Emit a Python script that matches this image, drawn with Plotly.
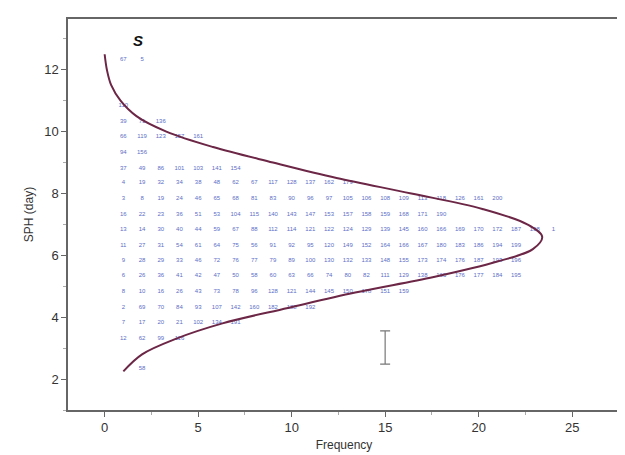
import plotly.graph_objects as go

# SPH row levels (y) and sample IDs listed along each row (x = 1..n)
row_sph = [12.33, 10.83, 10.33, 9.83, 9.33, 8.82, 8.34, 7.84, 7.33, 6.84,
           6.32, 5.83, 5.34, 4.82, 4.32, 3.82, 3.32, 2.33]
row_ids = [
    ["67", "5"],
    ["110"],
    ["39", "71", "136"],
    ["66", "119", "123", "157", "161"],
    ["94", "156"],
    ["37", "49", "86", "101", "103", "141", "154"],
    ["4", "19", "32", "34", "38", "48", "62", "67", "117", "128", "137", "162", "179"],
    ["3", "8", "19", "24", "46", "65", "68", "81", "83", "90", "96", "97", "105",
     "106", "108", "109", "113", "118", "126", "161", "200"],
    ["16", "22", "23", "36", "51", "53", "104", "115", "140", "143", "147", "153",
     "157", "158", "159", "168", "171", "190"],
    ["13", "14", "30", "40", "44", "59", "67", "88", "112", "114", "121", "122",
     "124", "129", "139", "145", "160", "166", "169", "170", "172", "187", "198", "1"],
    ["11", "27", "31", "54", "61", "64", "75", "56", "91", "92", "95", "120", "149",
     "152", "164", "166", "167", "180", "183", "186", "194", "199"],
    ["9", "28", "29", "33", "46", "72", "76", "77", "79", "89", "100", "130", "132",
     "133", "148", "155", "173", "174", "176", "187", "193", "196"],
    ["6", "26", "36", "41", "42", "47", "50", "58", "60", "63", "66", "74", "80",
     "82", "111", "129", "138", "165", "176", "177", "184", "195"],
    ["8", "10", "16", "26", "43", "73", "78", "96", "128", "121", "144", "145",
     "150", "178", "151", "159"],
    ["2", "69", "70", "84", "93", "107", "142", "160", "182", "188", "192"],
    ["7", "17", "20", "21", "102", "134", "191"],
    ["12", "62", "99", "116"],
    ["", "58"],
]

# fitted density curve (SPH, frequency)
curve_sph = [12.5, 12.0, 11.5, 11.0, 10.5, 10.0, 9.5, 9.0, 8.5, 8.0, 7.5, 7.0,
             6.6, 6.2, 5.8, 5.3, 4.8, 4.3, 3.8, 3.3, 2.8, 2.25]
curve_freq = [0.0, 0.12, 0.35, 0.85, 1.7, 3.3, 5.8, 9.0, 12.4, 16.4, 20.2, 22.6,
              23.4, 22.9, 21.0, 17.6, 13.4, 9.8, 6.3, 3.8, 2.0, 1.0]

# error bar
err_x = [15]
err_y = [3.02]
err_half = [0.54]

x_tickvals = [0, 5, 10, 15, 20, 25]
y_tickvals = [2, 4, 6, 8, 10, 12]

tx, ty, tt = [], [], []
for s, ids in zip(row_sph, row_ids):
    for i, lab in enumerate(ids):
        if lab:
            tx.append(i + 1)
            ty.append(s)
            tt.append(lab)

fig = go.Figure()
fig.add_trace(go.Scatter(x=tx, y=ty, text=tt, mode="text",
                         textfont=dict(size=6, color="#5d6ec6", family="Arial"),
                         hoverinfo="skip", showlegend=False))
fig.add_trace(go.Scatter(x=curve_freq, y=curve_sph, mode="lines",
                         line=dict(color="#6c2646", width=2, shape="spline"),
                         showlegend=False))
fig.add_trace(go.Scatter(x=err_x, y=err_y, mode="markers",
                         marker=dict(size=1, color="rgba(0,0,0,0)"),
                         error_y=dict(type="data", array=err_half, color="#777777",
                                      thickness=1.2, width=5),
                         showlegend=False))

fig.add_annotation(x=1.8, y=12.95, text="<b><i>S</i></b>", showarrow=False,
                   font=dict(size=15, color="#111111", family="Arial"))

axis_common = dict(showgrid=False, zeroline=False, showline=True, mirror=True,
                   linecolor="#666666", linewidth=1.5, ticks="outside",
                   ticklen=5, tickcolor="#666666",
                   tickfont=dict(size=13, color="#333333", family="Arial"))

fig.update_xaxes(range=[-1.96, 27.56], tickvals=x_tickvals,
                 title=dict(text="Frequency", font=dict(size=12, color="#333333", family="Arial"),
                            standoff=6),
                 minor=dict(dtick=2.5, ticks="outside", ticklen=3, tickcolor="#aaaaaa"),
                 **axis_common)
fig.update_yaxes(range=[1.0, 13.64], tickvals=y_tickvals,
                 title=dict(text="SPH (day)", font=dict(size=12, color="#333333", family="Arial"),
                            standoff=8),
                 minor=dict(dtick=1, ticks="outside", ticklen=3, tickcolor="#aaaaaa"),
                 **axis_common)

fig.update_layout(width=625, height=455, plot_bgcolor="white", paper_bgcolor="white",
                  margin=dict(l=60, r=13, t=9, b=53))

fig.write_html("out.html")
